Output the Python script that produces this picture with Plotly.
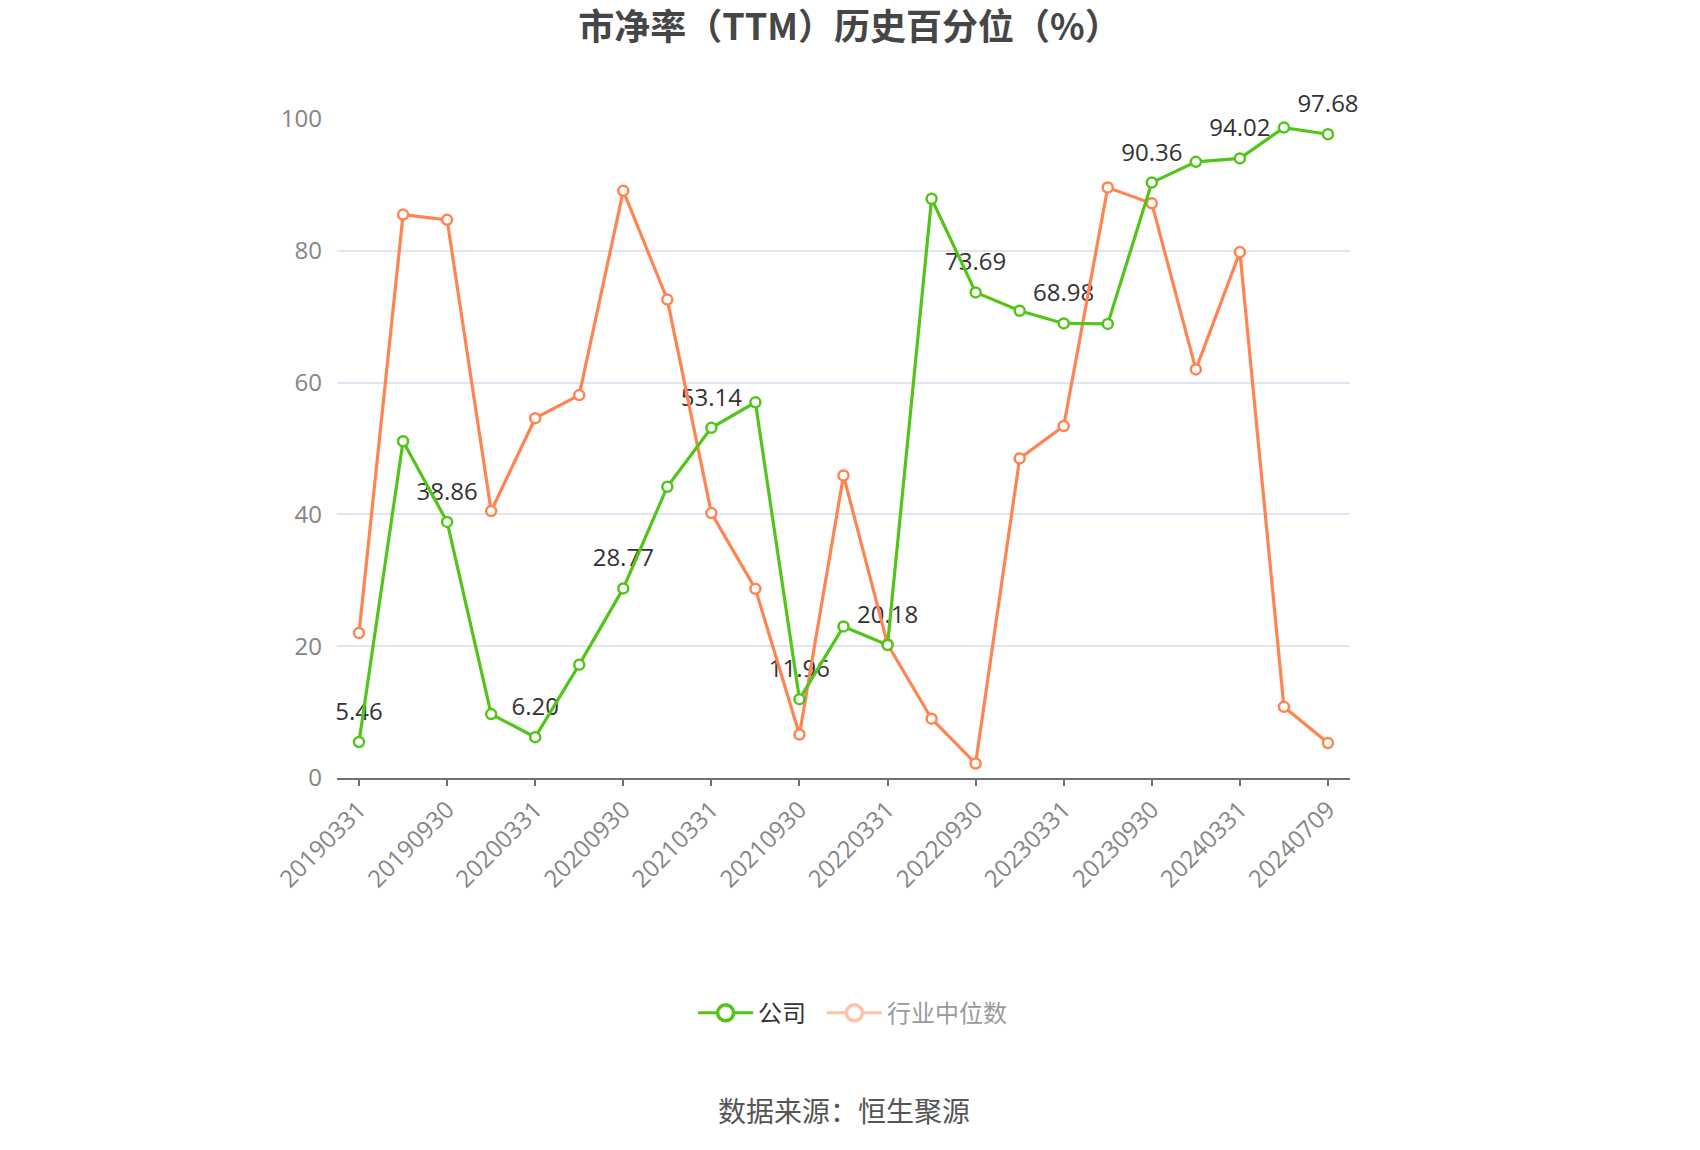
import plotly.graph_objects as go

dates = ["20190331", "20190630", "20190930", "20191231", "20200331", "20200630",
         "20200930", "20201231", "20210331", "20210630", "20210930", "20211231",
         "20220331", "20220630", "20220930", "20221231", "20230331", "20230630",
         "20230930", "20231231", "20240331", "20240630", "20240709"]
company = [5.46, 51.1, 38.86, 9.7, 6.20, 17.2, 28.77, 44.2, 53.14, 57.0, 11.96, 23.0,
           20.18, 87.9, 73.69, 70.9, 68.98, 68.9, 90.36, 93.5, 94.02, 98.7, 97.68]
industry = [22.0, 85.5, 84.7, 40.5, 54.6, 58.1, 89.1, 72.6, 40.2, 28.7, 6.6, 45.9,
            20.3, 9.0, 2.2, 48.5, 53.4, 89.6, 87.2, 62.0, 79.8, 10.8, 5.3]
tick_labels = dates[::2]

GREEN = "#52C41A"
ORANGE = "#FF8451"
FONT = "Open Sans, Noto Sans CJK SC"
CJK = "Noto Sans CJK SC"

fig = go.Figure()

# value labels (drawn beneath the lines, as in the reference)
labels = [f"{v:.2f}" if i % 2 == 0 else "" for i, v in enumerate(company)]
fig.add_trace(go.Scatter(
    x=dates, y=company, mode="markers+text", showlegend=False,
    text=labels, textposition="top center", cliponaxis=False,
    textfont=dict(family=FONT, size=24, color="#333333"),
    marker=dict(size=24, opacity=0), hoverinfo="skip"))

fig.add_trace(go.Scatter(
    x=dates, y=industry, mode="lines+markers", showlegend=False, cliponaxis=False,
    line=dict(color=ORANGE, width=3.2),
    marker=dict(symbol="circle", size=10, color="white", line=dict(color=ORANGE, width=2.5)),
    hoverinfo="skip"))

fig.add_trace(go.Scatter(
    x=dates, y=company, mode="lines+markers", showlegend=False, cliponaxis=False,
    line=dict(color=GREEN, width=3.2),
    marker=dict(symbol="circle", size=10, color="white", line=dict(color=GREEN, width=2.5)),
    hoverinfo="skip"))

# legend entries
fig.add_trace(go.Scatter(
    x=[None], y=[None], mode="lines+markers", name="公司\u00a0\u00a0",
    line=dict(color=GREEN, width=3),
    marker=dict(symbol="circle", size=16, color="white", line=dict(color=GREEN, width=3.5))))
fig.add_trace(go.Scatter(
    x=[None], y=[None], mode="lines+markers",
    name="<span style='color:#9a9a9a'>行业中位数</span>",
    opacity=0.5,
    line=dict(color=ORANGE, width=3),
    marker=dict(symbol="circle", size=16, color="white", line=dict(color=ORANGE, width=3.5))))

fig.update_layout(
    width=1700, height=1150,
    margin=dict(l=329, r=358, t=111, b=380),
    paper_bgcolor="white", plot_bgcolor="white",
    font=dict(family=FONT, color="#858585"),
    title=dict(text="<b>市净率（TTM）历史百分位（%）</b>", x=0.495, xanchor="center",
               y=1 - 19 / 1150, yanchor="middle",
               font=dict(family=CJK, size=36, color="#464646")),
    legend=dict(orientation="h", x=0.509, xanchor="center", y=-0.357, yanchor="middle",
                font=dict(family=CJK, size=24, color="#333333"),
                itemwidth=55, tracegroupgap=0),
    annotations=[dict(text="数据来源：恒生聚源", xref="paper", yref="paper",
                      x=0.5, y=-0.504, xanchor="center", yanchor="middle",
                      showarrow=False, font=dict(family=CJK, size=28, color="#555555"))],
)

fig.update_xaxes(
    type="category", tickmode="array", tickvals=tick_labels, ticktext=tick_labels,
    tickangle=-45, tickfont=dict(family=FONT, size=24, color="#858585"),
    showline=True, linecolor="#6E7079", linewidth=2,
    ticks="outside", ticklen=6, tickwidth=2, tickcolor="#6E7079",
    showgrid=False, zeroline=False, range=[-0.5, len(dates) - 0.5])

fig.update_yaxes(
    range=[0, 100], dtick=20, tickfont=dict(family=FONT, size=24, color="#858585"),
    showgrid=True, gridcolor="#E0E6F1", gridwidth=2, zeroline=False,
    showline=False, ticks="", ticklabelstandoff=14)

fig.write_html("out.html")
